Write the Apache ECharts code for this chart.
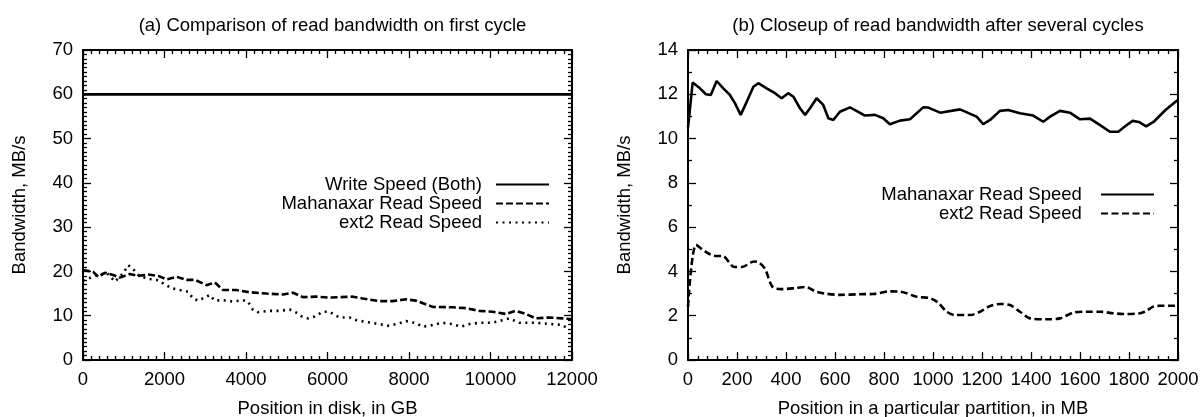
<!DOCTYPE html>
<html>
<head>
<meta charset="utf-8">
<script src="https://cdn.jsdelivr.net/npm/echarts@6/dist/echarts.min.js"></script>
<style>
html,body{margin:0;padding:0;background:#fff;}
#c{width:1203px;height:417px;}
</style>
</head>
<body>
<div id="c"></div>
<script>
// ---- Data: (a) first cycle, x = position in disk (GB), y = MB/s
const writeX_a = [0, 2000, 4000, 6000, 8000, 10000, 12000];
const writeY_a = [60, 60, 60, 60, 60, 60, 60];

const mahaX_a = [0,250,375,540,740,905,1150,1355,1600,1845,2050,2295,2540,2745,3030,3235,3435,3765,4090,4500,4905,5150,5395,5725,6050,6620,6865,7270,7600,7930,8170,8580,9070,9400,9725,10050,10380,10620,10865,11110,11440,11765,12000];
const mahaY_a = [20.3,19.9,18.8,19.7,19.2,18.6,19.4,19.0,19.3,19.0,18.2,18.8,18.1,18.1,16.9,17.5,15.8,15.8,15.3,15.0,14.8,15.2,14.2,14.3,14.1,14.3,13.9,13.3,13.3,13.7,13.4,12.0,11.9,11.7,11.1,10.9,10.4,11.1,10.4,9.4,9.6,9.4,9.2];

const ext2X_a = [0,294,580,784,987,1110,1232,1354,1560,1805,1967,2172,2376,2579,2702,2824,3030,3110,3233,3436,3681,3926,4048,4171,4293,4580,4825,5070,5234,5356,5518,5682,5885,6050,6172,6294,6539,6703,6948,7274,7519,7764,7928,8173,8334,8580,8824,9069,9275,9478,9723,10049,10255,10458,10703,11112,11518,11763,11927];
const ext2Y_a = [17.9,19.0,19.7,17.7,19.6,21.4,20.5,19.2,18.4,18.1,17.3,16.2,15.8,15.4,13.9,13.4,14.3,14.7,13.4,13.5,13.2,13.5,13.2,11.3,10.8,11.1,11.1,11.4,10.7,9.9,9.4,9.8,10.9,10.9,10.2,9.6,9.6,9.0,8.6,8.1,7.7,8.3,8.8,8.3,7.5,7.9,8.4,8.1,7.5,8.1,8.4,8.4,8.9,9.4,8.4,8.4,8.1,7.9,6.9];

// ---- Data: (b) after several cycles, x = position in partition (MB)
const mahaX_b = [0,19,49,73,93,117,144,171,192,215,240,267,287,321,355,382,409,430,457,478,498,525,552,573,593,620,661,695,722,763,797,824,865,906,960,981,1029,1110,1178,1205,1233,1273,1307,1355,1409,1450,1478,1518,1559,1600,1641,1682,1722,1756,1791,1815,1840,1870,1900,1950,2000];
const mahaY_b = [10.5,12.53,12.27,12.0,11.97,12.6,12.27,11.97,11.59,11.07,11.67,12.34,12.5,12.27,12.05,11.82,12.05,11.89,11.37,11.07,11.37,11.82,11.52,10.92,10.84,11.21,11.41,11.21,11.04,11.07,10.92,10.65,10.81,10.87,11.41,11.40,11.17,11.32,10.99,10.65,10.84,11.25,11.29,11.14,11.04,10.76,10.99,11.25,11.17,10.87,10.90,10.61,10.31,10.31,10.61,10.8,10.75,10.55,10.75,11.3,11.75];

const ext2X_b = [0,33,70,110,140,190,220,270,290,315,345,380,440,480,520,560,620,700,756,824,865,933,988,1020,1056,1090,1151,1192,1233,1273,1314,1355,1396,1464,1518,1573,1627,1682,1736,1777,1845,1872,1899,1927,1995];
const ext2Y_b = [2.4,5.2,4.9,4.7,4.7,4.2,4.2,4.45,4.4,4.1,3.3,3.2,3.25,3.3,3.1,3.0,2.94,2.97,2.98,3.1,3.09,2.86,2.79,2.6,2.18,2.03,2.03,2.18,2.44,2.53,2.48,2.18,1.88,1.84,1.88,2.14,2.18,2.18,2.11,2.08,2.11,2.23,2.41,2.45,2.45];

// ---- Tick / label text
const titleA = '(a) Comparison of read bandwidth on first cycle';
const titleB = '(b) Closeup of read bandwidth after several cycles';
const xNameA = 'Position in disk, in GB';
const xNameB = 'Position in a particular partition, in MB';
const yName = 'Bandwidth, MB/s';
const namesA = ['Write Speed (Both)', 'Mahanaxar Read Speed', 'ext2 Read Speed'];
const namesB = ['Mahanaxar Read Speed ', 'ext2 Read Speed '];

const zip = (xs, ys) => xs.map((x, i) => [x, ys[i]]);

const FONT = 'Liberation Sans, Arial, Helvetica, sans-serif';
const FS = 18.5;
const black = '#000';

function axis(opts) {
  const base = {
    type: 'value',
    min: opts.min, max: opts.max, interval: opts.interval,
    gridIndex: opts.grid,
    position: opts.position,
    axisLine: { show: true, onZero: false, lineStyle: { color: black, width: 2 } },
    axisTick: { show: true, inside: true, length: 8, lineStyle: { color: black, width: 1.3 } },
    minorTick: { show: true, splitNumber: opts.minor, length: 4, lineStyle: { color: black, width: 1.3 } },
    splitLine: { show: false },
    minorSplitLine: { show: false },
    axisLabel: {
      show: !!opts.labels, color: black, fontSize: FS, fontFamily: FONT,
      margin: opts.margin || 10, showMinLabel: true, showMaxLabel: true,
      formatter: v => String(v)
    }
  };
  if (opts.name) {
    base.name = opts.name;
    base.nameLocation = 'middle';
    base.nameGap = opts.nameGap;
    base.nameTextStyle = { color: black, fontSize: FS, fontFamily: FONT };
  }
  return base;
}

const gridA = { left: 83, top: 50, width: 489, height: 310, outerBoundsMode: 'none', containLabel: false };
const gridB = { left: 688, top: 50, width: 490, height: 310, outerBoundsMode: 'none', containLabel: false };

function legend(name, right, top) {
  return {
    data: [name], orient: 'vertical', right: right, top: top, align: 'right',
    padding: 0, itemWidth: 53, itemHeight: 14,
    itemStyle: { opacity: 0 },
    textStyle: { color: black, fontSize: FS, fontFamily: FONT, lineHeight: 19, padding: [0, 9, 0, 0] },
    selectedMode: false
  };
}

const option = {
  animation: false,
  backgroundColor: '#fff',
  title: [
    { text: titleA, left: 83 + 489 / 2, top: 11, textAlign: 'center',
      textStyle: { color: black, fontSize: FS, fontWeight: 'normal', fontFamily: FONT } },
    { text: titleB, left: 688 + 245, top: 11, textAlign: 'center',
      textStyle: { color: black, fontSize: FS, fontWeight: 'normal', fontFamily: FONT } }
  ],
  grid: [gridA, gridB],
  xAxis: [
    axis({ grid: 0, position: 'bottom', min: 0, max: 12000, interval: 2000, minor: 10, labels: true, name: xNameA, nameGap: 39 }),
    axis({ grid: 0, position: 'top', min: 0, max: 12000, interval: 2000, minor: 10 }),
    axis({ grid: 1, position: 'bottom', min: 0, max: 2000, interval: 200, minor: 5, labels: true, name: xNameB, nameGap: 39 }),
    axis({ grid: 1, position: 'top', min: 0, max: 2000, interval: 200, minor: 5 })
  ],
  yAxis: [
    axis({ grid: 0, position: 'left', min: 0, max: 70, interval: 10, minor: 10, labels: true, name: yName, nameGap: 54 }),
    axis({ grid: 0, position: 'right', min: 0, max: 70, interval: 10, minor: 10 }),
    axis({ grid: 1, position: 'left', min: 0, max: 14, interval: 2, minor: 2, labels: true, name: yName, nameGap: 54 }),
    axis({ grid: 1, position: 'right', min: 0, max: 14, interval: 2, minor: 2 })
  ],
  legend: [
    legend(namesA[0], 1203 - 550, 175),
    legend(namesA[1], 1203 - 550, 194),
    legend(namesA[2], 1203 - 550, 213),
    legend(namesB[0], 1203 - 1155, 185),
    legend(namesB[1], 1203 - 1155, 204)
  ],
  series: [
    { name: namesA[0], type: 'line', xAxisIndex: 0, yAxisIndex: 0, data: zip(writeX_a, writeY_a),
      symbol: 'none', lineStyle: { color: black, width: 2.8, type: 'solid' }, itemStyle: { color: black } },
    { name: namesA[1], type: 'line', xAxisIndex: 0, yAxisIndex: 0, data: zip(mahaX_a, mahaY_a),
      symbol: 'none', lineStyle: { color: black, width: 2.6, type: [7, 3] }, itemStyle: { color: black } },
    { name: namesA[2], type: 'line', xAxisIndex: 0, yAxisIndex: 0, data: zip(ext2X_a, ext2Y_a),
      symbol: 'none', lineStyle: { color: black, width: 2.6, type: [2, 4.5] }, itemStyle: { color: black } },
    { name: namesB[0], type: 'line', xAxisIndex: 2, yAxisIndex: 2, data: zip(mahaX_b, mahaY_b),
      symbol: 'none', lineStyle: { color: black, width: 2.6, type: 'solid' }, itemStyle: { color: black } },
    { name: namesB[1], type: 'line', xAxisIndex: 2, yAxisIndex: 2, data: zip(ext2X_b, ext2Y_b),
      symbol: 'none', smooth: 0.3, lineStyle: { color: black, width: 2.6, type: [7, 3.5] }, itemStyle: { color: black } }
  ]
};

const chart = echarts.init(document.getElementById('c'), null, { renderer: 'canvas' });
chart.setOption(option);
</script>
</body>
</html>
